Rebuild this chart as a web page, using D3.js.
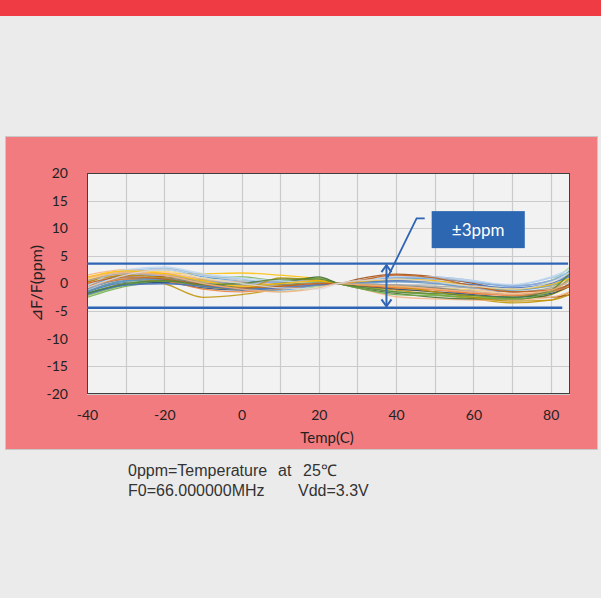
<!DOCTYPE html>
<html lang="en">
<head>
  <meta charset="UTF-8" />
  <title>Frequency vs Temperature</title>
  <script src="https://cdn.jsdelivr.net/npm/d3@7"></script>
  <style>
    body { margin: 0; background: #ebebeb; }
    svg { display: block; }
    .tick text { font-family: Lato, "Open Sans", sans-serif; font-size: 14px; fill: #222; }
  </style>
</head>
<body>
  <script>
    // temperature points (C) and each unit's deviation in ppm
    var temps = [-40, -30, -20, -10, 0, 10, 20, 25, 30, 40, 50, 60, 70, 80, 85];

    var s1 = [-1.5, 0.2, 0.5, -0.5, -0.8, -0.3, 0.3, 0, -0.3, -0.5, -0.8, -1.2, -1.5, -1.0, 0.5];
    var s2 = [0.5, 2.0, 1.5, 0.5, 0.0, 0.2, 0.4, 0, -0.2, -0.8, -1.2, -1.8, -2.0, -1.2, 0.8];
    var s3 = [-0.5, 1.5, 1.8, 0.8, 0.3, 0.5, 0.5, 0, 0.2, 0.5, 0.3, -0.5, -1.0, -0.5, 1.5];
    var s4 = [1.0, 2.2, 1.8, 1.8, 1.9, 1.5, 0.8, 0, -0.3, -1.0, -1.5, -2.2, -2.8, -2.0, -0.5];
    var s5 = [-1.0, 1.0, 0.0, -2.5, -2.0, -1.0, -0.3, 0, -0.5, -1.2, -2.0, -2.8, -3.5, -3.0, -1.5];
    var s6 = [-2.5, -0.5, 0.3, 0.8, 1.2, 0.5, 1.0, 0, -0.5, -1.5, -2.0, -2.5, -2.3, -1.0, 2.5];
    var s7 = [-0.8, 1.8, 2.5, 1.2, 0.5, 0.2, 0.2, 0, 0.3, 1.0, 0.8, 0.2, -0.5, 0.5, 2.2];
    var s8 = [0.2, 1.5, 1.2, 0.2, -0.5, -0.5, 0.0, 0, 0.8, 1.7, 1.2, 0.0, -1.5, -2.5, -2.0];
    var s9 = [1.5, 2.5, 2.0, 0.8, 0.2, -0.3, 0.2, 0, -0.8, -2.4, -2.8, -3.0, -3.0, -2.5, -1.5];
    var s10 = [-1.2, 1.0, 2.8, 1.5, 0.5, -0.5, -0.2, 0, 0.3, 0.8, 0.5, -0.3, -0.8, 0.0, 1.8];
    var s11 = [-2.0, 0.0, 1.0, 0.2, -0.8, -1.5, -0.5, 0, 0.2, 0.5, 0.0, -0.8, -1.2, 0.5, 3.0];
    var s12 = [-1.8, -0.2, 0.2, -0.8, -1.2, -0.8, 0.0, 0, -0.4, -1.0, -1.5, -2.0, -2.5, -1.8, -0.5];
    var s13 = [-0.3, 2.2, 2.8, 1.5, 0.8, 0.0, -0.3, 0, 0.5, 1.2, 1.0, 0.3, -0.3, 1.0, 2.0];
    var s14 = [-1.5, 0.5, 0.8, -0.2, -0.5, 0.0, 1.2, 0, -0.8, -1.8, -2.5, -2.8, -2.8, -2.0, 0.0];
    var s15 = [0.8, 2.0, 2.2, 1.0, 0.0, -0.2, 0.3, 0, -0.2, -0.5, -0.8, -1.2, -1.8, -0.8, 0.8];
    var s16 = [-1.0, 0.8, 1.0, 0.0, -0.3, -0.2, 0.2, 0, -0.2, -0.3, -0.8, -1.5, -2.0, -1.5, 0.0];
    var s17 = [0.0, 1.8, 2.0, 0.5, -0.5, -0.8, 0.0, 0, 0.3, 0.5, 0.0, -1.0, -1.8, -1.0, 1.0];
    var s18 = [-1.2, 1.2, 1.5, 0.5, 0.0, 0.3, 0.5, 0, 0.2, 1.0, 1.2, 0.5, -0.5, 0.5, 1.5];
    var s19 = [-0.5, 0.8, 0.5, -1.0, -1.5, -1.0, -0.3, 0, -0.3, -0.8, -1.0, -1.8, -2.2, -1.5, -0.5];
    var s20 = [-2.2, -0.3, 0.5, -0.5, -1.0, -0.5, 0.3, 0, -0.8, -2.0, -2.2, -2.5, -2.8, -1.5, 1.0];
    var s21 = [0.3, 1.5, 1.0, -0.5, -1.0, 1.0, 0.5, 0, -0.2, -0.5, -1.5, -2.5, -3.2, -3.0, -2.0];
    var s22 = [-0.5, 2.5, 3.0, 1.8, 1.0, 0.5, 0.0, 0, 0.5, 1.3, 1.2, 0.5, -0.2, 1.2, 2.5];
    var s23 = [-1.5, 0.5, 0.8, -0.3, -1.0, -1.2, -0.3, 0, 0.0, 0.3, 0.0, -0.8, -1.2, -0.3, 1.2];
    var s24 = [0.5, 1.8, 1.5, 0.5, -0.2, -0.5, -0.2, 0, 0.0, -0.3, -0.5, -0.8, -1.5, -0.8, 0.5];
    var s25 = [-2.0, -0.3, 0.0, -0.5, -1.0, -0.8, -0.2, 0, 0.2, 0.5, 0.3, -0.2, -0.8, 0.0, 1.5];
    var s26 = [1.2, 2.3, 1.8, 0.5, -0.5, 0.0, 0.5, 0, 0.3, 0.8, 0.5, -0.5, -1.0, -0.2, 1.0];
    var s27 = [0.0, 1.2, 0.8, -0.2, -0.8, -0.5, 0.0, 0, 0.5, 1.5, 1.0, -0.5, -1.5, -1.2, -0.2];
    var s28 = [-1.8, 0.0, 0.5, -0.2, 0.0, 0.8, 0.8, 0, -0.6, -1.5, -1.8, -2.2, -2.5, -1.2, 2.0];
    var s29 = [1.0, 2.0, 1.5, 0.0, -1.0, -1.5, -0.8, 0, -0.2, -0.5, -1.0, -1.5, -2.0, -1.2, 0.5];
    var s30 = [-0.8, 1.5, 2.5, 1.0, 0.0, -0.8, -1.0, 0, 0.5, 0.8, 0.3, -0.5, -1.0, 0.2, 2.0];

    var series = [s1, s2, s3, s4, s5, s6, s7, s8, s9, s10, s11, s12, s13, s14, s15,
      s16, s17, s18, s19, s20, s21, s22, s23, s24, s25, s26, s27, s28, s29, s30];

    var colors = ["#4472c4", "#ed7d31", "#a5a5a5", "#ffc000", "#bf9000", "#70ad47", "#5b9bd5", "#9e480e",
      "#f4b183", "#c9c9c9", "#a9d18e", "#264478", "#9dc3e6", "#43682b", "#ffd966", "#7f7f7f",
      "#f8cbad", "#8faadc", "#ed7d31", "#70ad47", "#c09000", "#bdd7ee", "#5b9bd5", "#a5a5a5",
      "#4472c4", "#ffc000", "#c55a11", "#548235", "#f4b183", "#d9d9d9"];

    var yTicks = [20, 15, 10, 5, 0, -5, -10, -15, -20];
    var xTicks = [-40, -20, 0, 20, 40, 60, 80];
    var xGrid = [-30, -20, -10, 0, 10, 20, 30, 40, 50, 60, 70, 80];

    // spec band lines and the arrow
    var bandHi = 3.6, bandLo = -4.4;
    var bandHiEnd = 84.5, bandLoEnd = 83;
    var arrowTemp = 37.5;
    var calloutLabel = "\u00b13ppm";

    var W = 601, H = 598;
    var pL = 87, pR = 570, pT = 173, pB = 394;

    var svg = d3.select("body").append("svg")
      .attr("width", W)
      .attr("height", H);

    // header bar
    svg.append("rect").attr("x", 0).attr("y", 0).attr("width", W).attr("height", 16).attr("fill", "#ef3b44");

    // pink panel
    svg.append("rect")
      .attr("x", 5.5).attr("y", 136.5)
      .attr("width", 592).attr("height", 313)
      .attr("fill", "#f27b80")
      .attr("stroke", "#c8c8c8");

    var x = d3.scaleLinear().domain([-40, 85]).range([pL, pR]);
    var y = d3.scaleLinear().domain([-20, 20]).range([pB, pT]);

    svg.append("rect")
      .attr("x", pL).attr("y", pT)
      .attr("width", pR - pL).attr("height", pB - pT)
      .attr("fill", "#f2f2f2");

    // gridlines
    svg.append("g")
      .selectAll("line")
      .data(yTicks)
      .enter()
      .append("line")
      .attr("x1", pL).attr("x2", pR)
      .attr("y1", function(d) { return Math.round(y(d)) + 0.5; })
      .attr("y2", function(d) { return Math.round(y(d)) + 0.5; })
      .attr("stroke", "#cbcbcb").attr("stroke-width", 1.2);

    svg.append("g")
      .selectAll("line")
      .data(xGrid)
      .enter()
      .append("line")
      .attr("y1", pT).attr("y2", pB)
      .attr("x1", function(d) { return Math.round(x(d)) + 0.5; })
      .attr("x2", function(d) { return Math.round(x(d)) + 0.5; })
      .attr("stroke", "#cbcbcb").attr("stroke-width", 1.2);

    // axes (labels only)
    var fmt = function(d) { return String(d); };
    var yAxis = svg.append("g")
      .attr("transform", "translate(" + (pL - 19) + ",0)")
      .call(d3.axisLeft(y).tickValues(yTicks).tickSize(0).tickPadding(0).tickFormat(fmt));
    yAxis.select(".domain").remove();

    var xAxis = svg.append("g")
      .attr("transform", "translate(0," + (pB + 16) + ")")
      .call(d3.axisBottom(x).tickValues(xTicks).tickSize(0).tickPadding(0).tickFormat(fmt));
    xAxis.select(".domain").remove();

    svg.append("clipPath").attr("id", "plot")
      .append("rect")
      .attr("x", pL).attr("y", pT)
      .attr("width", pR - pL).attr("height", pB - pT);

    var line = d3.line()
      .x(function(d, i) { return x(temps[i]); })
      .y(function(d) { return y(d); })
      .curve(d3.curveMonotoneX);

    svg.append("g")
      .attr("clip-path", "url(#plot)")
      .selectAll("path")
      .data(series)
      .enter()
      .append("path")
      .attr("d", line)
      .attr("fill", "none")
      .attr("stroke", function(d, i) { return colors[i]; })
      .attr("stroke-width", 1.3)
      .attr("stroke-opacity", 0.85);

    // plot border
    svg.append("rect")
      .attr("x", pL + 0.5).attr("y", pT + 0.5)
      .attr("width", pR - pL - 1).attr("height", pB - pT - 1)
      .attr("fill", "none")
      .attr("stroke", "#404040");

    // band lines
    var blue = "#2e64b4";
    svg.append("line")
      .attr("x1", pL).attr("x2", x(bandHiEnd))
      .attr("y1", y(bandHi)).attr("y2", y(bandHi))
      .attr("stroke", blue).attr("stroke-width", 2.4);
    svg.append("line")
      .attr("x1", pL).attr("x2", x(bandLoEnd))
      .attr("y1", y(bandLo)).attr("y2", y(bandLo))
      .attr("stroke", blue).attr("stroke-width", 2.4);

    // double arrow
    var ax = x(arrowTemp);
    var ya = y(bandHi) + 1.5, yb = y(bandLo) - 1.5;
    svg.append("line")
      .attr("x1", ax).attr("x2", ax)
      .attr("y1", ya).attr("y2", yb)
      .attr("stroke", blue).attr("stroke-width", 2);
    svg.append("path")
      .attr("d", "M" + (ax - 5) + "," + (ya + 7) + "L" + ax + "," + ya + "L" + (ax + 5) + "," + (ya + 7))
      .attr("fill", "none").attr("stroke", blue).attr("stroke-width", 2);
    svg.append("path")
      .attr("d", "M" + (ax - 5) + "," + (yb - 7) + "L" + ax + "," + yb + "L" + (ax + 5) + "," + (yb - 7))
      .attr("fill", "none").attr("stroke", blue).attr("stroke-width", 2);

    // callout
    svg.append("path")
      .attr("d", "M" + x(arrowTemp + 0.3) + "," + y(1.1) +
        "L" + x(45.3) + "," + y(11.8) + "L" + x(47.4) + "," + y(11.8))
      .attr("fill", "none").attr("stroke", blue).attr("stroke-width", 1.8);

    svg.append("rect")
      .attr("x", x(49.2)).attr("y", y(13.1))
      .attr("width", x(73.3) - x(49.2)).attr("height", y(6.4) - y(13.1))
      .attr("fill", "#2e67b1");
    svg.append("text")
      .attr("x", (x(49.2) + x(73.3)) / 2).attr("y", (y(13.1) + y(6.4)) / 2 + 6)
      .attr("text-anchor", "middle")
      .attr("font-family", "Lato, sans-serif").attr("font-size", 17)
      .attr("fill", "#fff")
      .text(calloutLabel);

    // axis titles
    svg.append("text")
      .attr("x", 327).attr("y", 443)
      .attr("text-anchor", "middle")
      .attr("font-family", "Lato, sans-serif").attr("font-size", 15)
      .attr("fill", "#222")
      .text("Temp(C)");

    svg.append("text")
      .attr("transform", "translate(42," + y(0) + ") rotate(-90)")
      .attr("text-anchor", "middle")
      .attr("font-family", "Lato, sans-serif").attr("font-size", 16)
      .attr("fill", "#222")
      .text("\u22bfF/F(ppm)");

    // footnote
    var note = svg.append("g")
      .attr("font-family", "'Liberation Sans', Arial, sans-serif")
      .attr("font-size", 16)
      .attr("fill", "#333");
    note.append("text").attr("x", 128).attr("y", 476).text("0ppm=Temperature");
    note.append("text").attr("x", 278).attr("y", 476).text("at");
    note.append("text").attr("x", 303).attr("y", 476).text("25\u2103");
    note.append("text").attr("x", 128).attr("y", 496).text("F0=66.000000MHz");
    note.append("text").attr("x", 298).attr("y", 496).text("Vdd=3.3V");
  </script>
</body>
</html>
